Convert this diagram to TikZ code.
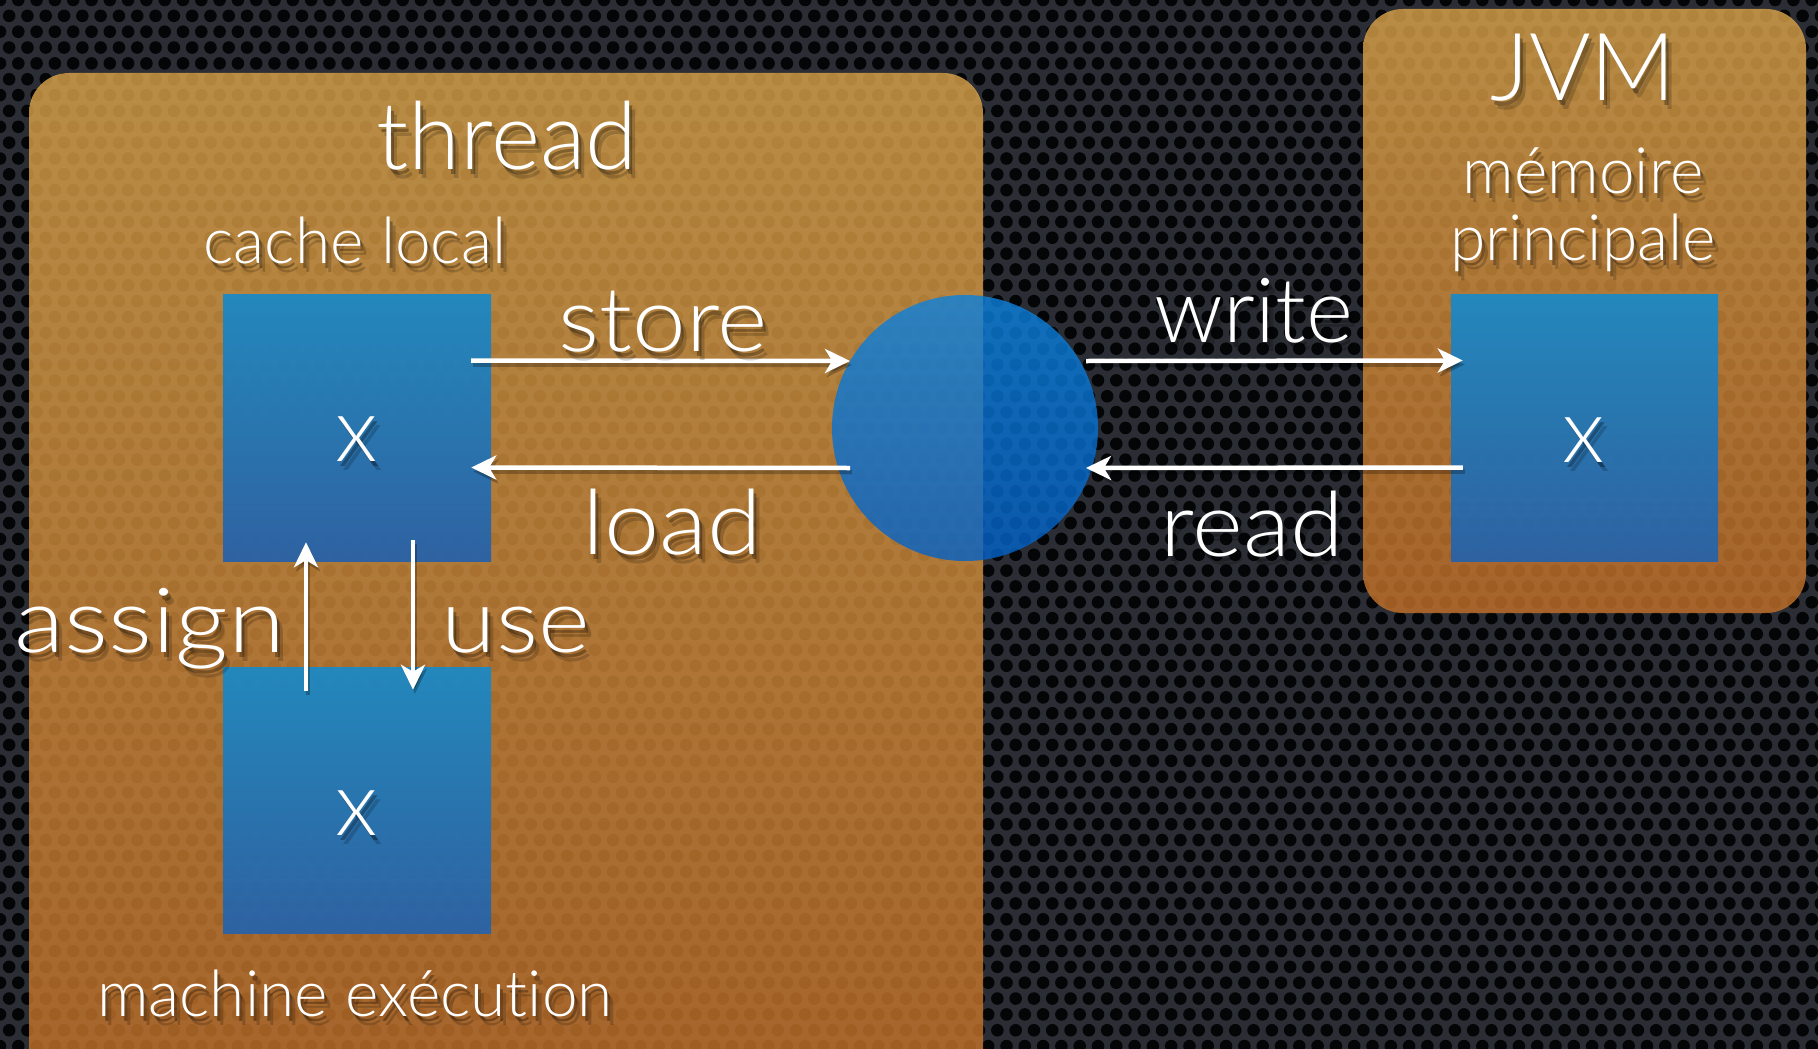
\documentclass[tikz,border=0pt]{standalone}
\usepackage{fontspec}
\setmainfont{Lato Light}[Ligatures={NoCommon,NoContextual}]
\usetikzlibrary{arrows.meta,calc}

\definecolor{bgbase}{RGB}{42,45,51}
\definecolor{holecol}{RGB}{4,5,7}
\definecolor{orTop}{RGB}{221,165,75}
\definecolor{orBot}{RGB}{196,113,41}
\definecolor{blTop}{RGB}{30,137,194}
\definecolor{blBot}{RGB}{42,98,166}
\definecolor{ciTop}{RGB}{12,130,222}
\definecolor{ciBot}{RGB}{4,98,200}

\newcommand\fsbig{\fontsize{94}{100}\selectfont}
\newcommand\fsmid{\fontsize{90}{96}\selectfont}
\newcommand\fssmall{\fontsize{64}{70}\selectfont}

% white label with a soft dark drop shadow:
% [horizontal stretch] name, position, font, text
\newcommand\shlabel[5][1]{%
  \node[lblshadow,font=#4,opacity=0.18] (#2-s2) at ($(#3)+(6,9)$) {\scalebox{#1}[1]{#5}};
  \node[lblshadow,font=#4,opacity=0.30] (#2-s1) at ($(#3)+(3,5)$) {\scalebox{#1}[1]{#5}};
  \node[lbl,font=#4] (#2) at (#3) {\scalebox{#1}[1]{#5}};}

\begin{document}
\begin{tikzpicture}[x=1pt,y=-1pt,
  lbl/.style={text=white,anchor=base,inner sep=0pt},
  lblshadow/.style={text=black,anchor=base,inner sep=0pt},
  panel/.style={rounded corners=40,top color=orTop,bottom color=orBot,opacity=0.8},
  cell/.style={rectangle,draw=none,inner sep=0pt,top color=blTop,bottom color=blBot,opacity=0.96},
  hub/.style={circle,draw=none,inner sep=0pt,minimum size=266,top color=ciTop,bottom color=ciBot,opacity=0.8},
  flow/.style={draw=white,line width=4.5,-{Stealth[length=25,width=24,inset=7]}},
  flowshadow/.style={draw=black,opacity=0.25,line width=4.5,-{Stealth[length=25,width=24,inset=7]}},
]
\useasboundingbox (0,0) rectangle (1818,1049);
\clip (0,0) rectangle (1818,1049);

% perforated metal backdrop, one row of holes per path
\fill[bgbase] (0,0) rectangle (1818,1049);
\foreach \r in {0,...,67}{
  \pgfmathsetmacro\rowy{\r*15.85}
  \pgfmathsetmacro\rowx{mod(\r,2)*9.15}
  \fill[holecol] foreach \c in {0,...,100} {
    ({\c*18.3+\rowx},\rowy) circle[radius=6.3]
  };
}

% panels
\shade[panel] (29,73) rectangle (983,1110);
\shade[panel] (1363,9) rectangle (1806,613);

% memory cells
\node[cell,minimum width=268,minimum height=267] (cache) at (357,427.5) {};
\node[cell,minimum width=268,minimum height=266] (exec) at (357,800) {};
\node[cell,minimum width=267,minimum height=267] (mem) at (1584.5,427.5) {};

% transfer point
\node[hub] (mid) at (965,428) {};

% panel titles and captions
\shlabel{tthread}{507,169}{\fsbig}{thread}
\shlabel{tcache}{355,263}{\fssmall}{cache local}
\shlabel{texec}{355,1016}{\fssmall}{machine exécution}
\shlabel{tjvm}{1583,100}{\fsbig}{JVM}
\shlabel{tmem1}{1583,193}{\fssmall}{mémoire}
\shlabel{tmem2}{1583,260}{\fssmall}{principale}

% variable copies
\shlabel{xcache}{357,461}{\fsmid}{x}
\shlabel{xexec}{357,835}{\fsmid}{x}
\shlabel{xmem}{1584,462}{\fsmid}{x}

% transfers between the cache and the hub
\coordinate (storeA) at ($(cache.east)+(-20,-67)$);
\coordinate (storeB) at ($(mid.center)+(-115,-67)$);
\coordinate (loadA) at ($(mid.center)+(-115,40)$);
\coordinate (loadB) at ($(cache.east)+(-20,40)$);
\coordinate (writeA) at ($(mid.center)+(121,-67)$);
\coordinate (writeB) at ($(mem.west)+(12,-67)$);
\coordinate (readA) at ($(mem.west)+(12,40)$);
\coordinate (readB) at ($(mid.center)+(121,40)$);
\coordinate (assignA) at ($(exec.north)+(-51,24)$);
\coordinate (assignB) at ($(cache.south)+(-51,-19)$);
\coordinate (useA) at ($(cache.south)+(56,-21)$);
\coordinate (useB) at ($(exec.north)+(56,23)$);

\foreach \a/\b in {storeA/storeB,loadA/loadB,writeA/writeB,readA/readB,assignA/assignB,useA/useB}{
  \draw[flowshadow] ($(\a)+(2,4)$) -- ($(\b)+(2,4)$);
}
\draw[flow] (storeA) -- (storeB);
\draw[flow] (loadA) -- (loadB);
\draw[flow] (writeA) -- (writeB);
\draw[flow] (readA) -- (readB);
\draw[flow] (assignA) -- (assignB);
\draw[flow] (useA) -- (useB);

% operation names
\shlabel[1.07]{lstore}{663,351}{\fsmid}{store}
\shlabel[1.1]{lload}{672,554}{\fsmid}{load}
\shlabel{lwrite}{1254,342}{\fsmid}{write}
\shlabel[1.08]{lread}{1252,556}{\fsmid}{read}
\shlabel[1.15]{lassign}{150,652}{\fsmid}{assign}
\shlabel[1.1]{luse}{516,652}{\fsmid}{use}
\end{tikzpicture}
\end{document}
